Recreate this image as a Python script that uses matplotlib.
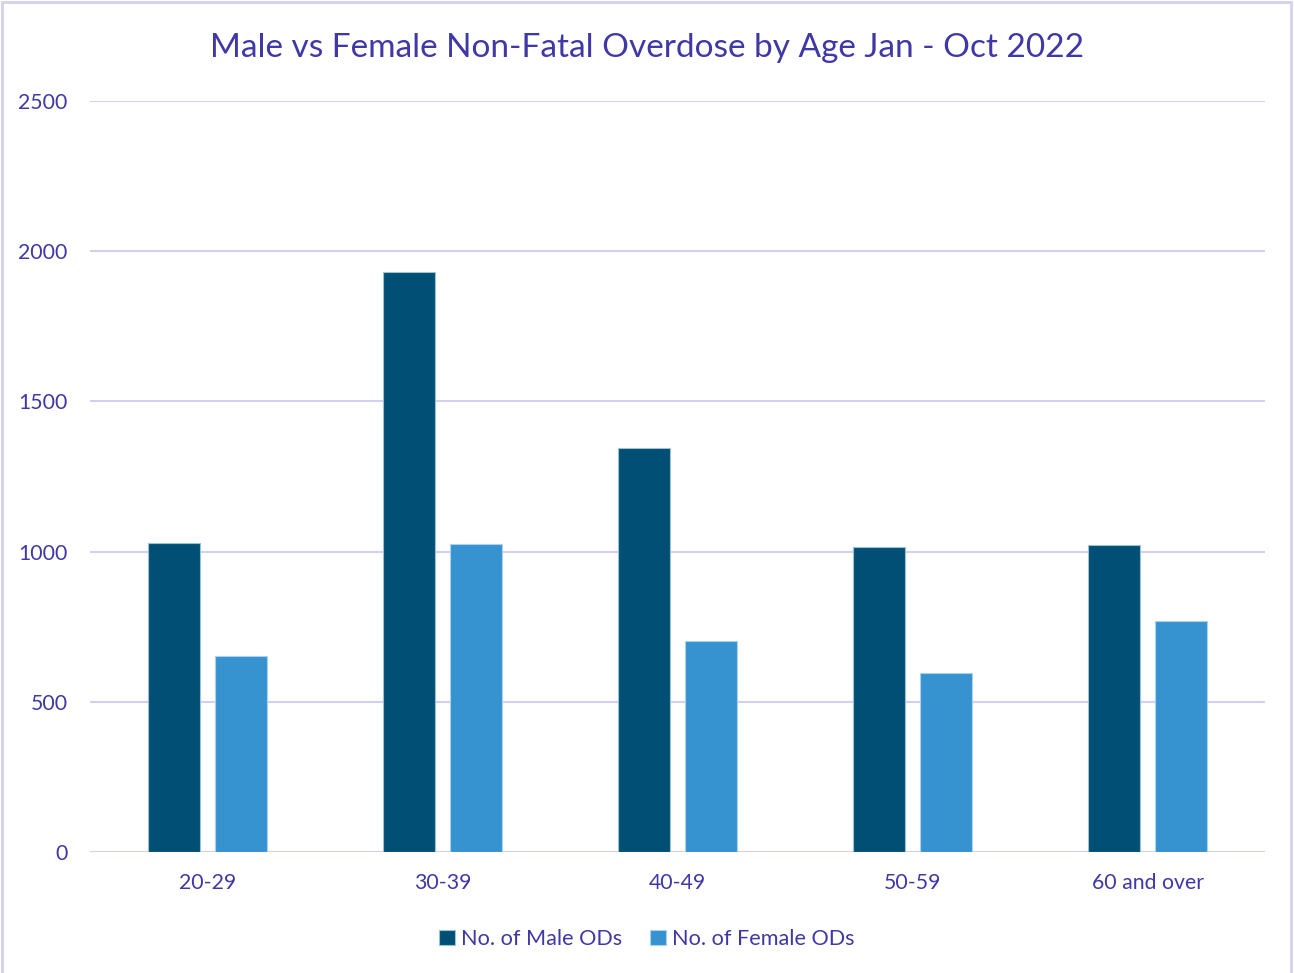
import numpy as np
import matplotlib
matplotlib.use("Agg")
from matplotlib import pyplot as plt
from matplotlib.patches import Rectangle

#Non-fatal overdoses by age group, Jan - Oct 2022
age_groups=['20-29','30-39','40-49','50-59','60 and over']
male_ods=[1030,1930,1345,1015,1022]
female_ods=[652,1025,702,596,769]

TEXT='#3F38A6'
GRID='#D4CEEF'
MALE='#024F75'
FEMALE='#3793D0'

plt.rcParams['font.family']=['Lato','DejaVu Sans']

fig=plt.figure(figsize=(12.94,9.73),dpi=100)
ax=fig.add_axes([0.0696,0.1244,0.9080,0.7718])

x=np.arange(len(age_groups))
w=0.222
ax.bar(x-0.142,male_ods,w,color=MALE,edgecolor='#9CC0D6',linewidth=0.8,label='No. of Male ODs',zorder=3)
ax.bar(x+0.142,female_ods,w,color=FEMALE,edgecolor='#A9D2EE',linewidth=0.8,label='No. of Female ODs',zorder=3)

ax.set_xlim(-0.5,len(age_groups)-0.5)
ax.set_ylim(0,2500)
ax.set_yticks(np.arange(0,2501,500))
ax.set_xticks(x)
ax.set_xticklabels(age_groups)
ax.grid(axis='y',color=GRID,linewidth=1.5,zorder=0)
for s in ax.spines.values():
    s.set_visible(False)
ax.tick_params(length=0,labelsize=15.3,labelcolor=TEXT)
ax.tick_params(axis='y',pad=16)
ax.tick_params(axis='x',pad=15.5)
for t in ax.get_yticklabels():
    t.set_horizontalalignment('right')

fig.text(0.5,0.951,'Male vs Female Non-Fatal Overdose by Age Jan - Oct 2022',
    ha='center',va='center',fontsize=24,color=TEXT)

leg=fig.legend(loc='center',bbox_to_anchor=(0.5,0.035),ncol=2,frameon=False,
    fontsize=15.6,handlelength=0.7,handleheight=0.7,handletextpad=0.3,columnspacing=1.3)
for t in leg.get_texts():
    t.set_color(TEXT)

#light frame round the chart area
fig.patches.append(Rectangle((0.0015,-0.01),0.9965,1.008,transform=fig.transFigure,
    fill=False,edgecolor='#D6D0EE',linewidth=2))

fig.savefig('out.png',dpi=100)
